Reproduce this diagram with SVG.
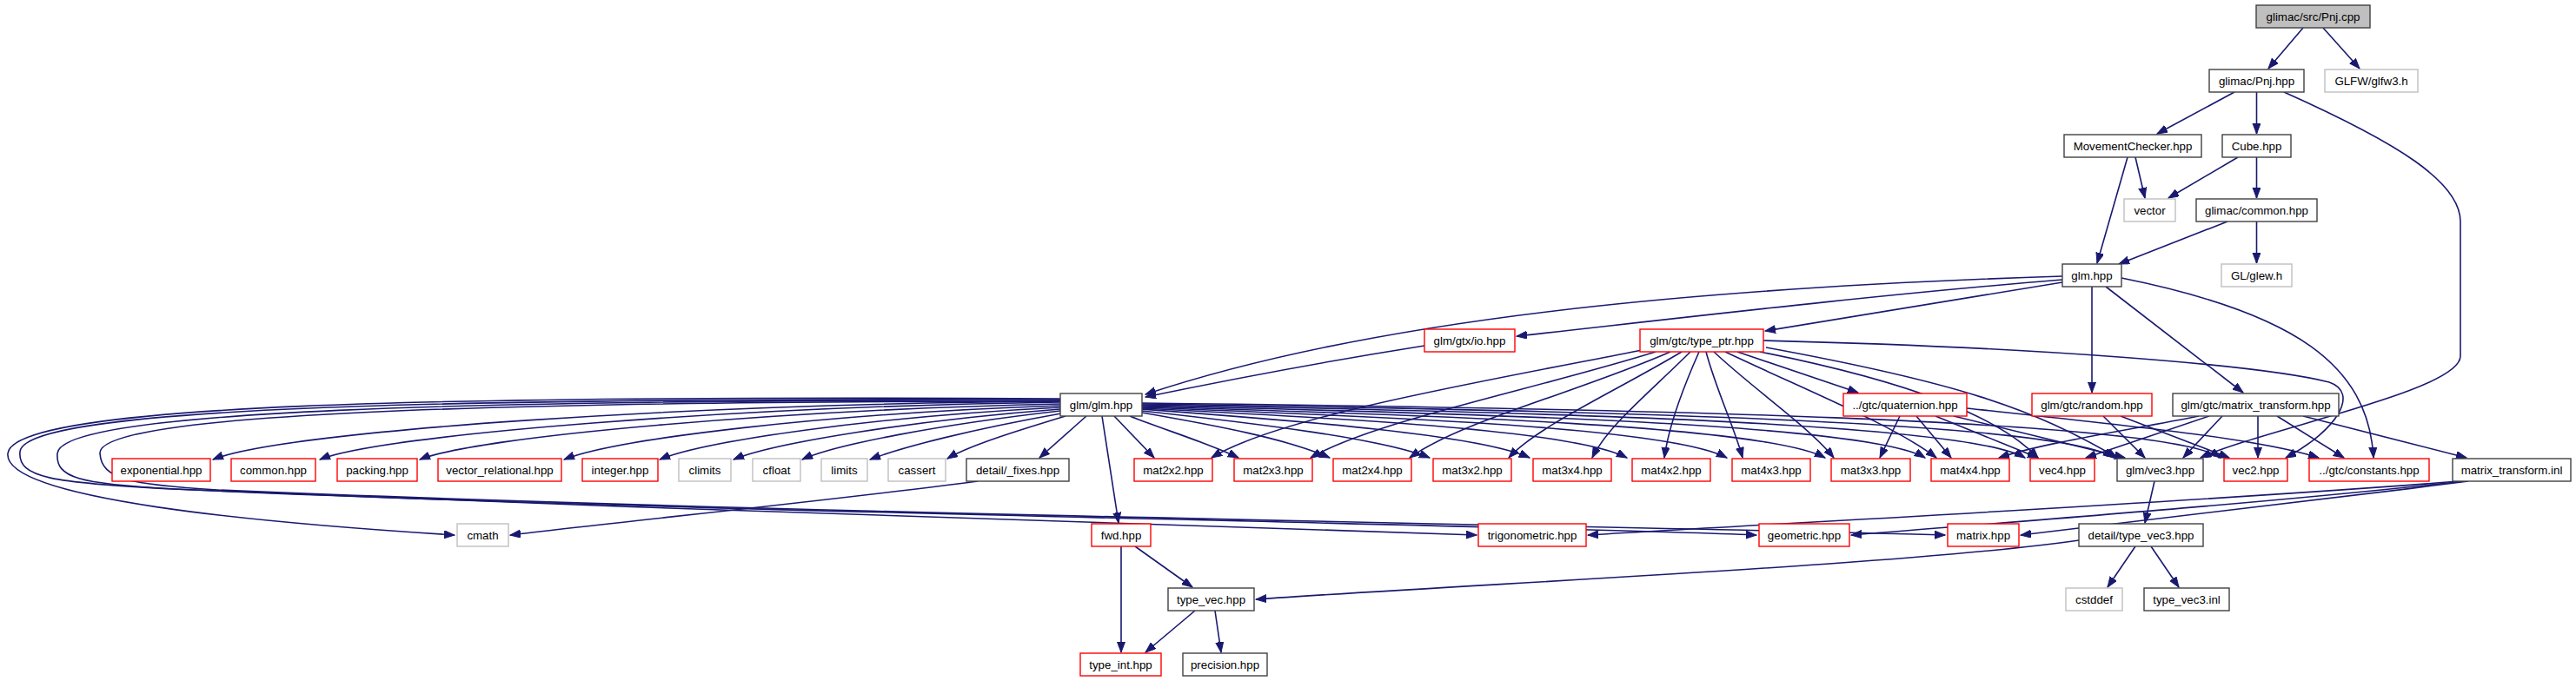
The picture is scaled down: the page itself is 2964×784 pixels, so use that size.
<svg xmlns="http://www.w3.org/2000/svg" width="2964" height="784" viewBox="0 0 2964 784">
<style>
rect{fill:#fff;stroke-width:1.4}
.d{stroke:#404040}
.r{stroke:#ff0000}
.g{stroke:#bfbfbf}
.root{fill:#bfbfbf;stroke:#404040}
text{font-family:"Liberation Sans",Arial,sans-serif;font-size:13.3px;text-anchor:middle;fill:#000}
#edges path{fill:none;stroke:#191970;stroke-width:1.6;marker-end:url(#arr)}
</style>
<defs>
<marker id="arr" markerWidth="13" markerHeight="10" refX="12" refY="4.5" orient="auto" markerUnits="userSpaceOnUse"><path d="M0,0 L12,4.5 L0,9 z" fill="#191970" stroke="#191970" stroke-width="1"/></marker>
</defs>
<rect x="0" y="0" width="2964" height="784" style="fill:#fff;stroke:none"/>
<g id="edges">
<path d="M2650,32 L2610,79"/>
<path d="M2673,32 L2715,79"/>
<path d="M2571,106 L2482,154"/>
<path d="M2596.5,106 L2596.5,154"/>
<path d="M2628,106 C2760,165 2831,210 2831,255 L2831,410 C2831,450 2600,495 2532,527"/>
<path d="M2457,181 L2468,228"/>
<path d="M2448,181 L2413,303"/>
<path d="M2575,181 L2495,228"/>
<path d="M2596.5,181 L2596.5,228"/>
<path d="M2563,255 L2438,304"/>
<path d="M2596.5,255 L2596.5,303"/>
<path d="M2373,318 C2000,330 1600,360 1318,454"/>
<path d="M2373,322 C2150,340 1900,370 1745,387"/>
<path d="M2373,325 L2031,381"/>
<path d="M2407,330 L2407,452"/>
<path d="M2423,330 L2581,452"/>
<path d="M2441,320 C2640,360 2725,420 2731,527"/>
<path d="M1639,398 C1500,420 1400,440 1318,457"/>
<path d="M1999,405 L2138,452"/>
<path d="M2029,392 C2350,400 2600,420 2680,440 C2715,452 2690,495 2630,527"/>
<path d="M2032,400 C2250,440 2340,470 2436,527"/>
<path d="M2025,405 C2200,440 2300,480 2345,527"/>
<path d="M1890,403 C1700,440 1470,480 1394,527"/>
<path d="M1905,405 C1760,450 1580,485 1508,527"/>
<path d="M1922,405 C1820,450 1680,485 1622,527"/>
<path d="M1935,405 C1860,450 1770,490 1736,527"/>
<path d="M1945,405 C1900,450 1850,490 1832,527"/>
<path d="M1955,405 C1935,450 1920,490 1915,527"/>
<path d="M1963,405 C1975,450 1995,490 2005,527"/>
<path d="M1972,405 C2020,450 2080,490 2110,527"/>
<path d="M1985,405 C2080,450 2180,490 2228,527"/>
<path d="M2186,479 L2163,527"/>
<path d="M2205,479 L2245,527"/>
<path d="M2227,479 L2345,527"/>
<path d="M2248,479 L2445,527"/>
<path d="M2263,470 C2450,490 2600,505 2668,527"/>
<path d="M2420,479 L2468,527"/>
<path d="M2440,479 L2565,527"/>
<path d="M2530,479 C2450,495 2350,510 2300,527"/>
<path d="M2542,479 L2400,527"/>
<path d="M2557,479 L2512,527"/>
<path d="M2598,479 L2598,527"/>
<path d="M2620,479 L2697,527"/>
<path d="M2650,479 L2838,527"/>
<path d="M2830,554 C2500,580 2000,605 1827,616"/>
<path d="M2835,554 C2600,580 2300,602 2130,616"/>
<path d="M2840,554 C2650,578 2450,602 2325,616"/>
<path d="M2479,554 L2468,602"/>
<path d="M2392,622 C2200,650 1700,672 1445,690"/>
<path d="M2457,629 L2425,676"/>
<path d="M2475,629 L2507,676"/>
<path d="M1306,629 L1372,676"/>
<path d="M1290,629 L1290,751"/>
<path d="M1375,703 L1318,751"/>
<path d="M1398,703 L1405,751"/>
<path d="M1125,554 C950,577 700,602 587,616"/>
<path d="M1220,462 C800,465 330,495 245,529"/>
<path d="M1220,463 C850,468 440,500 368,529"/>
<path d="M1220,465 C900,472 550,502 483,529"/>
<path d="M1220,467 C950,476 710,505 649,529"/>
<path d="M1220,469 C1000,480 810,508 759,529"/>
<path d="M1220,471 C1050,484 890,510 844,529"/>
<path d="M1220,473 C1080,489 960,512 923,529"/>
<path d="M1221,476 C1120,494 1040,514 1001,529"/>
<path d="M1226,479 C1170,496 1115,513 1090,528"/>
<path d="M1250,479 L1196,527"/>
<path d="M1268,479 L1287,602"/>
<path d="M1220,459 C500,455 15,465 9,522 C3,575 300,602 523,616"/>
<path d="M1220,460 C520,458 28,468 23,520 C20,550 60,556 200,563 C700,585 1300,602 1699,616"/>
<path d="M1220,461 C540,460 70,472 66,522 C64,550 90,557 200,563 C800,590 1700,603 2021,616"/>
<path d="M1220,462 C560,462 112,476 115,522 C117,552 150,558 250,564 C900,592 1900,606 2238,616"/>
<path d="M1282,479 L1328,527"/>
<path d="M1300,479 C1340,495 1390,510 1425,527"/>
<path d="M1314,475 C1400,490 1480,505 1530,527"/>
<path d="M1314,473 C1450,488 1590,505 1645,527"/>
<path d="M1314,471 C1500,485 1700,500 1760,527"/>
<path d="M1314,470 C1550,482 1810,495 1872,527"/>
<path d="M1314,469 C1600,480 1920,492 1987,527"/>
<path d="M1314,468 C1650,478 2030,490 2100,527"/>
<path d="M1314,467 C1700,476 2150,488 2215,527"/>
<path d="M1314,466 C1750,474 2260,486 2330,527"/>
<path d="M1314,465 C1800,472 2370,484 2432,527"/>
<path d="M1314,464 C1850,470 2490,482 2555,527"/>
</g>
<g id="n_pnj_cpp"><rect class="root" x="2596" y="6" width="131" height="26"/><text x="2661.5" y="24">glimac/src/Pnj.cpp</text></g>
<g id="n_pnj_hpp"><rect class="d" x="2542" y="80" width="109" height="26"/><text x="2596.5" y="98">glimac/Pnj.hpp</text></g>
<g id="n_glfw"><rect class="g" x="2675" y="80" width="107" height="26"/><text x="2728.5" y="98">GLFW/glfw3.h</text></g>
<g id="n_mc"><rect class="d" x="2375" y="155" width="158" height="26"/><text x="2454" y="173">MovementChecker.hpp</text></g>
<g id="n_cube"><rect class="d" x="2557" y="155" width="79" height="26"/><text x="2596.5" y="173">Cube.hpp</text></g>
<g id="n_vector"><rect class="g" x="2444" y="229" width="59" height="26"/><text x="2473.5" y="247">vector</text></g>
<g id="n_common_g"><rect class="d" x="2527" y="229" width="139" height="26"/><text x="2596.5" y="247">glimac/common.hpp</text></g>
<g id="n_glmhpp"><rect class="d" x="2373" y="304" width="68" height="26"/><text x="2407" y="322">glm.hpp</text></g>
<g id="n_glew"><rect class="g" x="2556" y="304" width="81" height="26"/><text x="2596.5" y="322">GL/glew.h</text></g>
<g id="n_io"><rect class="r" x="1639" y="379" width="104" height="26"/><text x="1691" y="397">glm/gtx/io.hpp</text></g>
<g id="n_typeptr"><rect class="r" x="1887" y="379" width="142" height="26"/><text x="1958" y="397">glm/gtc/type_ptr.hpp</text></g>
<g id="n_glmglm"><rect class="d" x="1220" y="453" width="94" height="26"/><text x="1267" y="471">glm/glm.hpp</text></g>
<g id="n_quat"><rect class="r" x="2121" y="453" width="142" height="26"/><text x="2192" y="471">../gtc/quaternion.hpp</text></g>
<g id="n_random"><rect class="r" x="2338" y="453" width="138" height="26"/><text x="2407" y="471">glm/gtc/random.hpp</text></g>
<g id="n_mt"><rect class="d" x="2500" y="453" width="191" height="26"/><text x="2595.5" y="471">glm/gtc/matrix_transform.hpp</text></g>
<g id="n_exponential"><rect class="r" x="129" y="528" width="113" height="26"/><text x="185.5" y="546">exponential.hpp</text></g>
<g id="n_common"><rect class="r" x="266" y="528" width="97" height="26"/><text x="314.5" y="546">common.hpp</text></g>
<g id="n_packing"><rect class="r" x="388" y="528" width="92" height="26"/><text x="434" y="546">packing.hpp</text></g>
<g id="n_vecrel"><rect class="r" x="504" y="528" width="142" height="26"/><text x="575" y="546">vector_relational.hpp</text></g>
<g id="n_integer"><rect class="r" x="670" y="528" width="87" height="26"/><text x="713.5" y="546">integer.hpp</text></g>
<g id="n_climits"><rect class="g" x="781" y="528" width="60" height="26"/><text x="811" y="546">climits</text></g>
<g id="n_cfloat"><rect class="g" x="866" y="528" width="55" height="26"/><text x="893.5" y="546">cfloat</text></g>
<g id="n_limits"><rect class="g" x="945" y="528" width="53" height="26"/><text x="971.5" y="546">limits</text></g>
<g id="n_cassert"><rect class="g" x="1022" y="528" width="66" height="26"/><text x="1055" y="546">cassert</text></g>
<g id="n_fixes"><rect class="d" x="1112" y="528" width="118" height="26"/><text x="1171" y="546">detail/_fixes.hpp</text></g>
<g id="n_mat2x2"><rect class="r" x="1305" y="528" width="90" height="26"/><text x="1350" y="546">mat2x2.hpp</text></g>
<g id="n_mat2x3"><rect class="r" x="1420" y="528" width="90" height="26"/><text x="1465" y="546">mat2x3.hpp</text></g>
<g id="n_mat2x4"><rect class="r" x="1534" y="528" width="90" height="26"/><text x="1579" y="546">mat2x4.hpp</text></g>
<g id="n_mat3x2"><rect class="r" x="1649" y="528" width="90" height="26"/><text x="1694" y="546">mat3x2.hpp</text></g>
<g id="n_mat3x4"><rect class="r" x="1764" y="528" width="90" height="26"/><text x="1809" y="546">mat3x4.hpp</text></g>
<g id="n_mat4x2"><rect class="r" x="1878" y="528" width="90" height="26"/><text x="1923" y="546">mat4x2.hpp</text></g>
<g id="n_mat4x3"><rect class="r" x="1993" y="528" width="90" height="26"/><text x="2038" y="546">mat4x3.hpp</text></g>
<g id="n_mat3x3"><rect class="r" x="2107" y="528" width="91" height="26"/><text x="2152.5" y="546">mat3x3.hpp</text></g>
<g id="n_mat4x4"><rect class="r" x="2222" y="528" width="90" height="26"/><text x="2267" y="546">mat4x4.hpp</text></g>
<g id="n_vec4"><rect class="r" x="2336" y="528" width="74" height="26"/><text x="2373" y="546">vec4.hpp</text></g>
<g id="n_vec3"><rect class="d" x="2436" y="528" width="99" height="26"/><text x="2485.5" y="546">glm/vec3.hpp</text></g>
<g id="n_vec2"><rect class="r" x="2559" y="528" width="73" height="26"/><text x="2595.5" y="546">vec2.hpp</text></g>
<g id="n_constants"><rect class="r" x="2657" y="528" width="138" height="26"/><text x="2726" y="546">../gtc/constants.hpp</text></g>
<g id="n_inl"><rect class="d" x="2822" y="528" width="136" height="26"/><text x="2890" y="546">matrix_transform.inl</text></g>
<g id="n_cmath"><rect class="g" x="526" y="603" width="59" height="26"/><text x="555.5" y="621">cmath</text></g>
<g id="n_fwd"><rect class="r" x="1256" y="603" width="68" height="26"/><text x="1290" y="621">fwd.hpp</text></g>
<g id="n_trig"><rect class="r" x="1701" y="603" width="124" height="26"/><text x="1763" y="621">trigonometric.hpp</text></g>
<g id="n_geometric"><rect class="r" x="2024" y="603" width="104" height="26"/><text x="2076" y="621">geometric.hpp</text></g>
<g id="n_matrix"><rect class="r" x="2241" y="603" width="82" height="26"/><text x="2282" y="621">matrix.hpp</text></g>
<g id="n_dtv3"><rect class="d" x="2392" y="603" width="143" height="26"/><text x="2463.5" y="621">detail/type_vec3.hpp</text></g>
<g id="n_typevec"><rect class="d" x="1344" y="677" width="99" height="26"/><text x="1393.5" y="695">type_vec.hpp</text></g>
<g id="n_cstddef"><rect class="g" x="2377" y="677" width="65" height="26"/><text x="2409.5" y="695">cstddef</text></g>
<g id="n_tv3inl"><rect class="d" x="2467" y="677" width="98" height="26"/><text x="2516" y="695">type_vec3.inl</text></g>
<g id="n_typeint"><rect class="r" x="1243" y="752" width="93" height="26"/><text x="1289.5" y="770">type_int.hpp</text></g>
<g id="n_precision"><rect class="d" x="1361" y="752" width="97" height="26"/><text x="1409.5" y="770">precision.hpp</text></g>
</svg>
